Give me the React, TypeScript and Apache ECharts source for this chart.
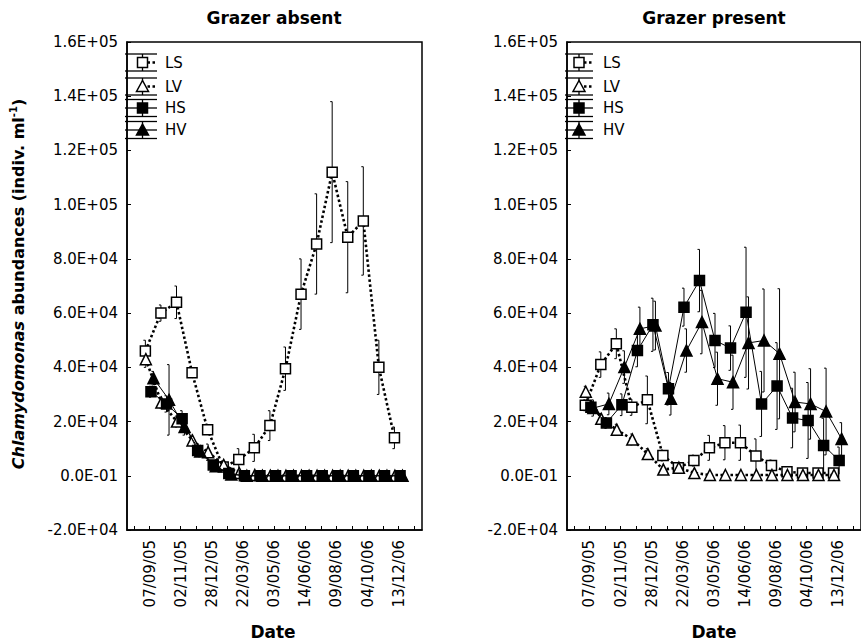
import React, { useEffect, useRef } from 'react';
import * as echarts from 'echarts';

// ---------- axis labels ----------
const xTickLabels = ['07/09/05', '02/11/05', '28/12/05', '22/03/06', '03/05/06', '14/06/06', '09/08/06', '04/10/06', '13/12/06'];
const yTickLabels = ['-2.0E+04', '0.0E-01', '2.0E+04', '4.0E+04', '6.0E+04', '8.0E+04', '1.0E+05', '1.2E+05', '1.4E+05', '1.6E+05'];
const Y_MIN = -20000;
const Y_MAX = 160000;
const Y_STEP = 20000;
const X_MIN = -0.45;
const X_MAX = 18.5;
const tickPositions = Array.from({ length: 19 }, (_, i) => i);
const labelPositions = xTickLabels.map((_, k) => 2 * k + 1);

// sampling occasions (position on the date axis)
const sampleIndex = [1, 2, 3, 4, 5, 6, 7, 8, 9, 10, 11, 12, 13, 14, 15, 16, 17];

const seriesNames = ['LS', 'LV', 'HS', 'HV'];
const panelTitles = ['Grazer absent', 'Grazer present'];

// ---------- Grazer absent ----------
const absentLS = [46000, 60000, 64000, 38000, 17000, 3200, 6000, 10300, 18500, 39500, 67000, 85500, 112000, 88000, 94000, 40000, 14000];
const absentLSErr = [4000, 3000, 6000, 1500, 1500, 1000, 4000, 5000, 5500, 8000, 13000, 18500, 26000, 20500, 20000, 10000, 4000];
const absentLV = [43000, 27000, 20000, 13000, 8700, 4000, 1000, 300, 0, 0, 0, 0, 0, 0, 0, 0, 0];
const absentLVErr = [3000, 2000, 2000, 2000, 3000, 1500, 500, 0, 0, 0, 0, 0, 0, 0, 0, 0, 0];
const absentHS = [31000, 26500, 21000, 9300, 4000, 800, 0, 0, 0, 0, 0, 0, 0, 0, 0, 0, 0];
const absentHSErr = [2000, 3000, 3000, 2000, 1500, 500, 0, 0, 0, 0, 0, 0, 0, 0, 0, 0, 0];
const absentHV = [36000, 28000, 18000, 9000, 3500, 500, 0, 0, 0, 0, 0, 0, 0, 0, 0, 0, 0];
const absentHVErr = [2500, 13000, 3000, 2000, 1500, 500, 0, 0, 0, 0, 0, 0, 0, 0, 0, 0, 0];

// ---------- Grazer present ----------
const presentLS = [26000, 41000, 48700, 25300, 28000, 7500, 3000, 5600, 10300, 12200, 12200, 7300, 3800, 1500, 1000, 1000, 1000];
const presentLSErr = [2000, 4700, 5500, 3000, 8800, 2000, 1000, 2000, 4600, 6300, 6500, 6300, 2000, 500, 500, 500, 500];
const presentLV = [31000, 21000, 17000, 13400, 8000, 2300, 3000, 1000, 300, 300, 300, 300, 300, 300, 300, 300, 300];
const presentLVErr = [2000, 2000, 2000, 2000, 2000, 1000, 1000, 500, 0, 0, 0, 0, 0, 0, 0, 0, 0];
const presentHS = [25300, 19500, 26200, 46200, 55700, 32100, 62200, 72000, 49900, 47100, 60300, 26500, 33100, 21300, 20400, 11200, 5600];
const presentHSErr = [2000, 2000, 4000, 6000, 9800, 6000, 7000, 11500, 10000, 8200, 24000, 12000, 16000, 11000, 14000, 10000, 5000];
const presentHV = [25000, 26500, 40100, 54200, 55400, 28400, 46200, 56700, 35800, 34500, 49000, 49900, 45000, 27200, 26500, 23700, 13600];
const presentHVErr = [3000, 4000, 6000, 8000, 9000, 6000, 8000, 11700, 9800, 10000, 17000, 19000, 24000, 11000, 13000, 16000, 6000];

const panels = [
  { values: [absentLS, absentLV, absentHS, absentHV], errors: [absentLSErr, absentLVErr, absentHSErr, absentHVErr] },
  { values: [presentLS, presentLV, presentHS, presentHV], errors: [presentLSErr, presentLVErr, presentHSErr, presentHVErr] },
];

// ---------- styles ----------
const FONT = 'DejaVu Sans';
const seriesOffset = [-0.27, -0.24, 0.09, 0.25];
const seriesSymbol = ['rect', 'triangle', 'rect', 'triangle'];
const seriesFill = ['#fff', '#fff', '#000', '#000'];
const seriesDotted = [true, true, false, false];
const gridBoxes = [
  { left: 127, top: 42, width: 295, height: 488 },
  { left: 567, top: 42, width: 296, height: 488 },
];
const legendGeom = [
  { symX: 142.5, textX: 165, x1: 125, x2: 157 },
  { symX: 579, textX: 603, x1: 565, x2: 593 },
];
const legendRows = [62.5, 86.5, 108, 130];

function errorBarSeries(p: number, k: number) {
  const vals = panels[p].values[k];
  const errs = panels[p].errors[k];
  const data = vals
    .map((v, i) => [sampleIndex[i] + seriesOffset[k], v - errs[i], v + errs[i], errs[i]])
    .filter((d) => d[3] > 0);
  return {
    type: 'custom',
    xAxisIndex: p,
    yAxisIndex: p,
    z: 1,
    silent: true,
    data,
    encode: { x: 0, y: [1, 2] },
    renderItem: (params: any, api: any) => {
      const x = api.value(0);
      const lo = api.coord([x, api.value(1)]);
      const hi = api.coord([x, api.value(2)]);
      const st = { stroke: '#000', lineWidth: 1 };
      return {
        type: 'group',
        children: [
          { type: 'line', shape: { x1: hi[0], y1: hi[1], x2: lo[0], y2: lo[1] }, style: st },
          { type: 'line', shape: { x1: hi[0] - 2, y1: hi[1], x2: hi[0], y2: hi[1] }, style: st },
          { type: 'line', shape: { x1: lo[0] - 2, y1: lo[1], x2: lo[0], y2: lo[1] }, style: st },
        ],
      };
    },
  };
}

function lineSeries(p: number, k: number) {
  const vals = panels[p].values[k];
  return {
    type: 'line',
    name: seriesNames[k],
    xAxisIndex: p,
    yAxisIndex: p,
    z: 2 + k,
    silent: true,
    showSymbol: true,
    showAllSymbol: true,
    symbol: seriesSymbol[k],
    symbolSize: seriesSymbol[k] === 'rect' ? 10 : 11,
    data: vals.map((v, i) => [sampleIndex[i] + seriesOffset[k], v]),
    itemStyle: { color: seriesFill[k], borderColor: '#000', borderWidth: 1.5 },
    lineStyle: seriesDotted[k]
      ? { color: '#000', width: 2.6, type: [2.5, 2.5] }
      : { color: '#000', width: 1, type: 'solid' },
  };
}

function legendGraphics(p: number) {
  const g = legendGeom[p];
  const els: any[] = [];
  seriesNames.forEach((name, k) => {
    const c = legendRows[k];
    const st = { stroke: '#000', lineWidth: 1.3 };
    els.push({ type: 'line', z: 20, shape: { x1: g.x1, y1: c - 8.5, x2: g.x2, y2: c - 8.5 }, style: st });
    els.push({ type: 'line', z: 20, shape: { x1: g.x1, y1: c + 8.5, x2: g.x2, y2: c + 8.5 }, style: st });
    els.push({ type: 'line', z: 20, shape: { x1: g.symX, y1: c - 8.5, x2: g.symX, y2: c + 8.5 }, style: st });
    if (seriesDotted[k]) {
      els.push({ type: 'line', z: 20, shape: { x1: g.symX, y1: c, x2: g.x2, y2: c }, style: { stroke: '#000', lineWidth: 2.5, lineDash: [2.5, 2.5] } });
    } else {
      els.push({ type: 'line', z: 20, shape: { x1: g.x1, y1: c, x2: g.x2, y2: c }, style: { stroke: '#000', lineWidth: 1.3 } });
    }
    if (seriesSymbol[k] === 'rect') {
      els.push({ type: 'rect', z: 21, shape: { x: g.symX - 5, y: c - 5, width: 10, height: 10 }, style: { fill: seriesFill[k], stroke: '#000', lineWidth: 1.5 } });
    } else {
      els.push({ type: 'polygon', z: 21, shape: { points: [[g.symX, c - 6], [g.symX - 6, c + 5], [g.symX + 6, c + 5]] }, style: { fill: seriesFill[k], stroke: '#000', lineWidth: 1.5 } });
    }
    els.push({ type: 'text', z: 21, x: g.textX, y: c, style: { text: name, fontFamily: FONT, fontSize: 15, fill: '#000', align: 'left', verticalAlign: 'middle' } });
  });
  return els;
}

function buildOption() {
  const grid = gridBoxes.map((b) => ({ ...b, show: true, borderColor: '#000', borderWidth: 1.5, backgroundColor: 'transparent' }));
  const xAxis = gridBoxes.map((_, p) => ({
    type: 'value',
    gridIndex: p,
    min: X_MIN,
    max: X_MAX,
    axisLine: { show: true, onZero: false, lineStyle: { color: '#000', width: 1.5 } },
    axisTick: { show: true, inside: true, length: 4, customValues: tickPositions, lineStyle: { color: '#000', width: 1 } },
    axisLabel: {
      show: true,
      customValues: labelPositions,
      rotate: 90,
      margin: 10,
      fontFamily: FONT,
      fontSize: 15,
      color: '#000',
      formatter: (v: number) => xTickLabels[Math.round((v - 1) / 2)] ?? '',
    },
    splitLine: { show: false },
  }));
  const yAxis = gridBoxes.map((_, p) => ({
    type: 'value',
    gridIndex: p,
    min: Y_MIN,
    max: Y_MAX,
    interval: Y_STEP,
    axisLine: { show: true, onZero: false, lineStyle: { color: '#000', width: 1.5 } },
    axisTick: { show: true, inside: true, length: 4, lineStyle: { color: '#000', width: 1 } },
    axisLabel: {
      show: true,
      margin: 9,
      fontFamily: FONT,
      fontSize: 15,
      color: '#000',
      formatter: (v: number) => yTickLabels[Math.round((v - Y_MIN) / Y_STEP)] ?? '',
    },
    splitLine: { show: false },
  }));
  const series: any[] = [];
  [0, 1].forEach((p) => {
    seriesNames.forEach((_, k) => series.push(errorBarSeries(p, k)));
    seriesNames.forEach((_, k) => series.push(lineSeries(p, k)));
  });

  const titleX = [274, 714];
  const dateX = [273, 714];
  const graphic: any[] = [];
  [0, 1].forEach((p) => {
    graphic.push({ type: 'text', z: 21, x: titleX[p], y: 18, style: { text: panelTitles[p], fontFamily: FONT, fontSize: 17, fontWeight: 'bold', fill: '#000', align: 'center', verticalAlign: 'middle' } });
    graphic.push({ type: 'text', z: 21, x: dateX[p], y: 632, style: { text: 'Date', fontFamily: FONT, fontSize: 17, fontWeight: 'bold', fill: '#000', align: 'center', verticalAlign: 'middle' } });
    graphic.push(...legendGraphics(p));
  });
  graphic.push({
    type: 'text',
    z: 21,
    x: 18,
    y: 284,
    rotation: Math.PI / 2,
    style: {
      text: '{i|Chlamydomonas} {b|abundances (indiv. ml}{s|-1}{b|)}',
      fontFamily: FONT,
      fontSize: 16,
      fontWeight: 'bold',
      fill: '#000',
      align: 'center',
      verticalAlign: 'middle',
      rich: {
        i: { fontFamily: FONT, fontSize: 16, fontWeight: 'bold', fontStyle: 'italic', fill: '#000', lineHeight: 19 },
        b: { fontFamily: FONT, fontSize: 16, fontWeight: 'bold', fill: '#000', lineHeight: 19 },
        s: { fontFamily: FONT, fontSize: 10, fontWeight: 'bold', fill: '#000', verticalAlign: 'top', lineHeight: 19 },
      },
    },
  });

  return {
    animation: false,
    backgroundColor: '#fff',
    grid,
    xAxis,
    yAxis,
    series,
    graphic,
  };
}

export default function App() {
  const ref = useRef<HTMLDivElement>(null);
  useEffect(() => {
    if (!ref.current) return;
    const chart = echarts.init(ref.current, undefined, { renderer: 'svg' });
    chart.setOption(buildOption() as any);
    return () => chart.dispose();
  }, []);
  return <div ref={ref} style={{ position: 'fixed', left: 0, top: 0, width: 861, height: 643, background: '#fff' }} />;
}
